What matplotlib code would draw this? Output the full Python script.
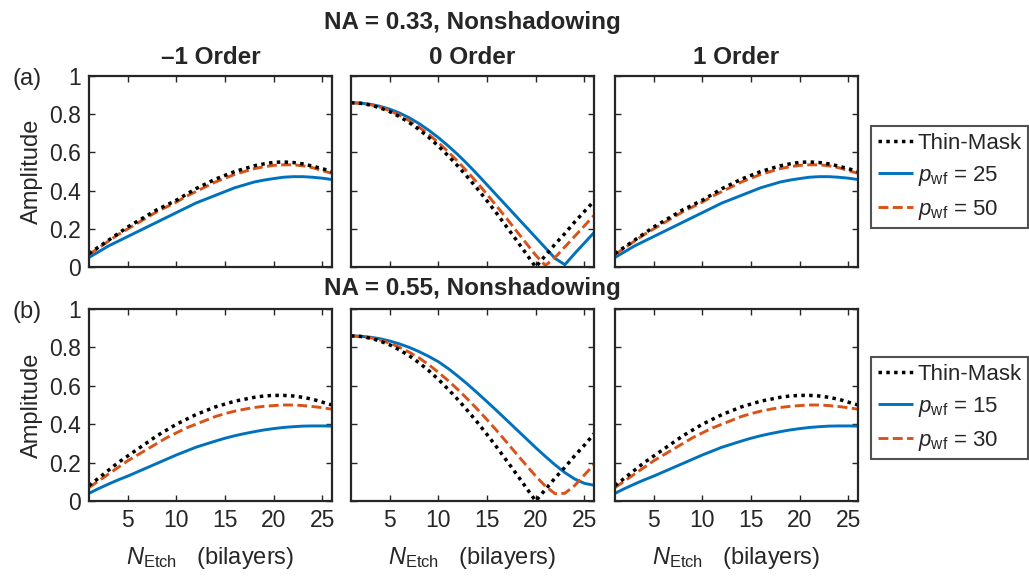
import numpy as np
import matplotlib
matplotlib.use("Agg")
import matplotlib.pyplot as plt

plt.rcParams['font.family'] = ['Liberation Sans', 'DejaVu Sans']
plt.rcParams['mathtext.fontset'] = 'custom'
plt.rcParams['mathtext.rm'] = 'Liberation Sans'
plt.rcParams['mathtext.it'] = 'Liberation Sans:italic'

# x axis: number of etched bilayers
n_etch = list(range(1, 27))

# (a) NA = 0.33 : -1 / +1 order
a_side_thin = [0.07, 0.105, 0.14, 0.175, 0.21, 0.24, 0.27, 0.30, 0.325, 0.35, 0.38, 0.41, 0.435,
               0.46, 0.48, 0.50, 0.515, 0.53, 0.54, 0.548, 0.55, 0.547, 0.54, 0.528, 0.515, 0.50]
a_side_p50 = [0.065, 0.10, 0.135, 0.17, 0.20, 0.23, 0.26, 0.29, 0.315, 0.34, 0.37, 0.395, 0.42,
              0.445, 0.465, 0.485, 0.50, 0.515, 0.525, 0.532, 0.535, 0.535, 0.53, 0.52, 0.505, 0.49]
a_side_p25 = [0.05, 0.08, 0.11, 0.135, 0.16, 0.185, 0.21, 0.235, 0.26, 0.285, 0.31, 0.335, 0.355,
              0.375, 0.395, 0.415, 0.43, 0.445, 0.455, 0.463, 0.47, 0.473, 0.473, 0.47, 0.465, 0.458]
# (a) 0 order
a_zero_thin = [0.86, 0.857, 0.848, 0.833, 0.813, 0.787, 0.756, 0.72, 0.679, 0.633, 0.582, 0.528, 0.47,
               0.41, 0.346, 0.28, 0.211, 0.142, 0.071, 0.0, 0.06, 0.12, 0.175, 0.235, 0.29, 0.345]
a_zero_p50 = [0.86, 0.857, 0.85, 0.837, 0.818, 0.795, 0.766, 0.732, 0.694, 0.651, 0.603, 0.552, 0.497,
              0.44, 0.38, 0.318, 0.255, 0.19, 0.126, 0.062, 0.008, 0.05, 0.105, 0.16, 0.215, 0.27]
a_zero_p25 = [0.86, 0.858, 0.852, 0.841, 0.826, 0.806, 0.781, 0.751, 0.716, 0.677, 0.634, 0.588, 0.538,
              0.485, 0.43, 0.375, 0.32, 0.265, 0.21, 0.155, 0.10, 0.045, 0.012, 0.07, 0.125, 0.18]

# (b) NA = 0.55 : -1 / +1 order
b_side_thin = [0.08, 0.12, 0.16, 0.20, 0.235, 0.27, 0.305, 0.34, 0.37, 0.40, 0.425, 0.45, 0.47,
               0.49, 0.505, 0.52, 0.53, 0.54, 0.547, 0.55, 0.55, 0.547, 0.54, 0.53, 0.515, 0.50]
b_side_p30 = [0.07, 0.105, 0.14, 0.175, 0.21, 0.24, 0.27, 0.30, 0.33, 0.355, 0.38, 0.40, 0.42,
              0.44, 0.455, 0.468, 0.478, 0.487, 0.493, 0.497, 0.50, 0.50, 0.497, 0.492, 0.486, 0.478]
b_side_p15 = [0.04, 0.065, 0.088, 0.11, 0.13, 0.152, 0.174, 0.196, 0.218, 0.24, 0.26, 0.28, 0.296,
              0.312, 0.327, 0.34, 0.351, 0.361, 0.37, 0.377, 0.383, 0.387, 0.39, 0.391, 0.391, 0.39]
# (b) 0 order
b_zero_thin = [0.86, 0.857, 0.848, 0.833, 0.813, 0.787, 0.756, 0.72, 0.679, 0.633, 0.582, 0.528, 0.47,
               0.41, 0.346, 0.28, 0.211, 0.142, 0.071, 0.0, 0.06, 0.12, 0.175, 0.235, 0.29, 0.35]
b_zero_p30 = [0.86, 0.857, 0.85, 0.838, 0.822, 0.80, 0.775, 0.745, 0.71, 0.67, 0.627, 0.58, 0.53,
              0.478, 0.423, 0.366, 0.307, 0.247, 0.188, 0.13, 0.077, 0.038, 0.04, 0.08, 0.135, 0.19]
b_zero_p15 = [0.86, 0.858, 0.853, 0.845, 0.833, 0.818, 0.80, 0.778, 0.753, 0.725, 0.69, 0.65, 0.608,
              0.563, 0.517, 0.47, 0.422, 0.374, 0.326, 0.278, 0.232, 0.188, 0.148, 0.115, 0.092, 0.082]

order_titles = ['\u20131 Order', '0 Order', '1 Order']
row_titles = ['NA = 0.33, Nonshadowing', 'NA = 0.55, Nonshadowing']
row_tags = ['(a)', '(b)']
pwf_a = [25, 50]
pwf_b = [15, 30]

rows = [
    [(a_side_thin, a_side_p25, a_side_p50), (a_zero_thin, a_zero_p25, a_zero_p50),
     (a_side_thin, a_side_p25, a_side_p50)],
    [(b_side_thin, b_side_p15, b_side_p30), (b_zero_thin, b_zero_p15, b_zero_p30),
     (b_side_thin, b_side_p15, b_side_p30)],
]

BLUE = '#0072BD'
ORANGE = '#D95319'
DARK = '#262626'

W, H = 1029, 578
fig = plt.figure(figsize=(W / 100, H / 100), dpi=100)


def fx(px):
    return px / W


def fy(py):
    return 1 - py / H


col_left = [89, 351, 615]
col_w = 243
row_top = [76, 309]
row_h = [191, 192]

axes = []
for r in range(2):
    row_axes = []
    for c in range(3):
        ax = fig.add_axes([fx(col_left[c]), fy(row_top[r] + row_h[r]), col_w / W, row_h[r] / H])
        thin, p_lo, p_hi = rows[r][c]
        l_blue, = ax.plot(n_etch, p_lo, color=BLUE, lw=2.1, solid_capstyle='butt')
        l_orange, = ax.plot(n_etch, p_hi, color=ORANGE, lw=2.1, linestyle=(0, (3.4, 1.5)))
        l_thin, = ax.plot(n_etch, thin, color='black', lw=2.5, linestyle=(0, (1, 1.25)))
        ax.set_xlim(1, 26)
        ax.set_ylim(0, 1)
        ax.set_xticks([5, 10, 15, 20, 25])
        ax.set_yticks([0, 0.2, 0.4, 0.6, 0.8, 1])
        ax.set_yticklabels(['0', '0.2', '0.4', '0.6', '0.8', '1'])
        ax.tick_params(direction='in', length=4, width=1, top=True, right=True,
                       labelsize=16.5, colors=DARK, pad=6)
        for s in ax.spines.values():
            s.set_linewidth(1.6)
            s.set_color(DARK)
        if c > 0:
            ax.tick_params(labelleft=False)
        else:
            ax.set_ylabel('Amplitude', fontsize=17, color=DARK, labelpad=4)
        if r == 0:
            ax.tick_params(labelbottom=False)
        else:
            ax.set_xlabel(r'$N_{\mathrm{Etch}}$' + '   (bilayers)', fontsize=17, color=DARK, labelpad=9)
        row_axes.append((ax, l_thin, l_blue, l_orange))
    axes.append(row_axes)

# column titles
for c in range(3):
    fig.text(fx(col_left[c] + col_w / 2), fy(57), order_titles[c], ha='center', va='center',
             fontsize=17.5, fontweight='bold', color=DARK)

# row titles and tags
fig.text(fx(472), fy(22), row_titles[0], ha='center', va='center', fontsize=17.5, fontweight='bold', color=DARK)
fig.text(fx(472), fy(288), row_titles[1], ha='center', va='center', fontsize=17.5, fontweight='bold', color=DARK)
fig.text(fx(12), fy(79), row_tags[0], ha='left', va='center', fontsize=17, color=DARK)
fig.text(fx(12), fy(312), row_tags[1], ha='left', va='center', fontsize=17, color=DARK)

# legends
legend_tops = [126, 357]
for r, pw in enumerate([pwf_a, pwf_b]):
    ax, l_thin, l_blue, l_orange = axes[r][2]
    labels = ['Thin-Mask',
              r'$p_{\mathrm{wf}}$' + ' = %d' % pw[0],
              r'$p_{\mathrm{wf}}$' + ' = %d' % pw[1]]
    leg = ax.legend([l_thin, l_blue, l_orange], labels, loc='upper left',
                    bbox_to_anchor=(fx(871), fy(legend_tops[r])), bbox_transform=fig.transFigure,
                    fontsize=16, frameon=True, fancybox=False, borderpad=0.3, labelspacing=0.45,
                    handlelength=1.6, handletextpad=0.2, borderaxespad=0)
    leg.get_frame().set_edgecolor(DARK)
    leg.get_frame().set_linewidth(1.5)
    for t in leg.get_texts():
        t.set_color(DARK)

fig.savefig('out.png', dpi=100)
